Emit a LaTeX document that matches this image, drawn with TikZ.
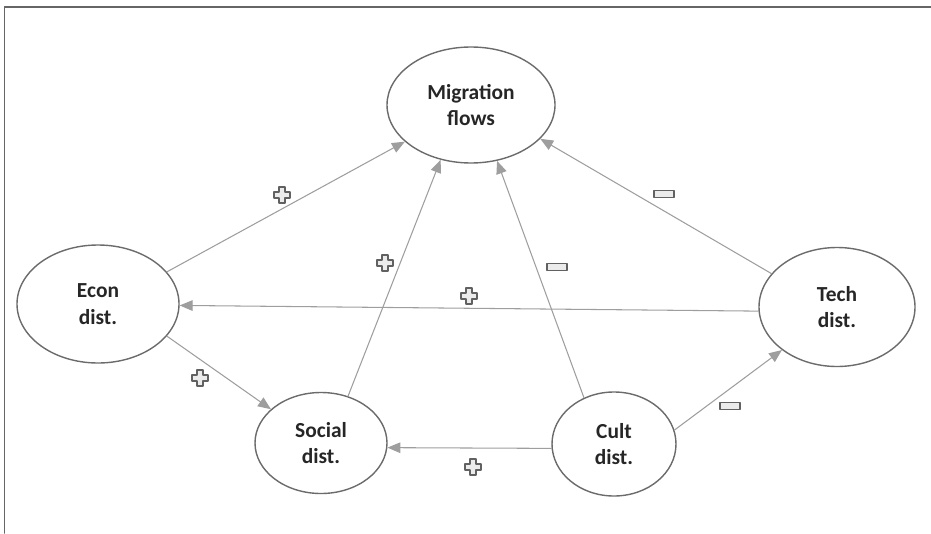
\documentclass[tikz,border=0pt]{standalone}
\usepackage{fontspec}
\setmainfont{Carlito}
\usetikzlibrary{arrows.meta, shapes.geometric}

\begin{document}
\begin{tikzpicture}[x=0.03cm, y=-0.03cm, line cap=round, line join=round,
  factor/.style={ellipse, draw=black!58, line width=1.2pt, inner sep=0pt, align=center,
    font=\fontsize{18.3}{22.5}\selectfont\bfseries, text=black!85},
  link/.style={draw=black!38, line width=0.9pt, -{Triangle[length=11pt, width=9pt]}},
  sign/.style={draw=black!62, fill=black!8, line width=0.9pt},
  plusmark/.pic={\draw[sign] (-3,-8) -- (3,-8) -- (3,-3) -- (8,-3) -- (8,3) -- (3,3)
    -- (3,8) -- (-3,8) -- (-3,3) -- (-8,3) -- (-8,-3) -- (-3,-3) -- cycle;},
  minusmark/.pic={\draw[sign] (-10,-3.5) rectangle (10,3.5);}]
  \useasboundingbox (0,0) rectangle (931,533);
  % frame: left and top only
  \draw[black!60, line width=1.3pt] (4.5,533) -- (4.5,7) -- (931,7);
  % factors
  \node[factor, minimum width=5.04cm, minimum height=3.48cm] (migr) at (471,105) {Migration\\flows};
  \node[factor, minimum width=4.86cm, minimum height=3.54cm] (econ) at (98,304) {Econ\\dist.};
  \node[factor, minimum width=4.68cm, minimum height=3.57cm] (tech) at (837,307) {Tech\\dist.};
  \node[factor, minimum width=3.96cm, minimum height=3.03cm] (social) at (321,443) {Social\\dist.};
  \node[factor, minimum width=3.72cm, minimum height=3.12cm] (cult) at (614,444) {Cult\\dist.};
  % links into migration flows
  \draw[link] (econ.25) -- (migr.209);
  \draw[link] (social.60) -- (migr.241);
  \draw[link] (cult.123) -- (migr.295);
  \draw[link] (tech.153) -- (migr.334);
  % links between distances
  \draw[link] (tech.183) -- (econ.359);
  \draw[link] (econ.335) -- (social.146);
  \draw[link] (cult.184) -- (social.356);
  \draw[link] (cult.13) -- (tech.218);
  % signs
  \pic at (282,195) {plusmark};
  \pic at (385,263) {plusmark};
  \pic at (469,296) {plusmark};
  \pic at (200,378) {plusmark};
  \pic at (473,467) {plusmark};
  \pic at (557,267) {minusmark};
  \pic at (664,194) {minusmark};
  \pic at (730,406) {minusmark};
\end{tikzpicture}
\end{document}
